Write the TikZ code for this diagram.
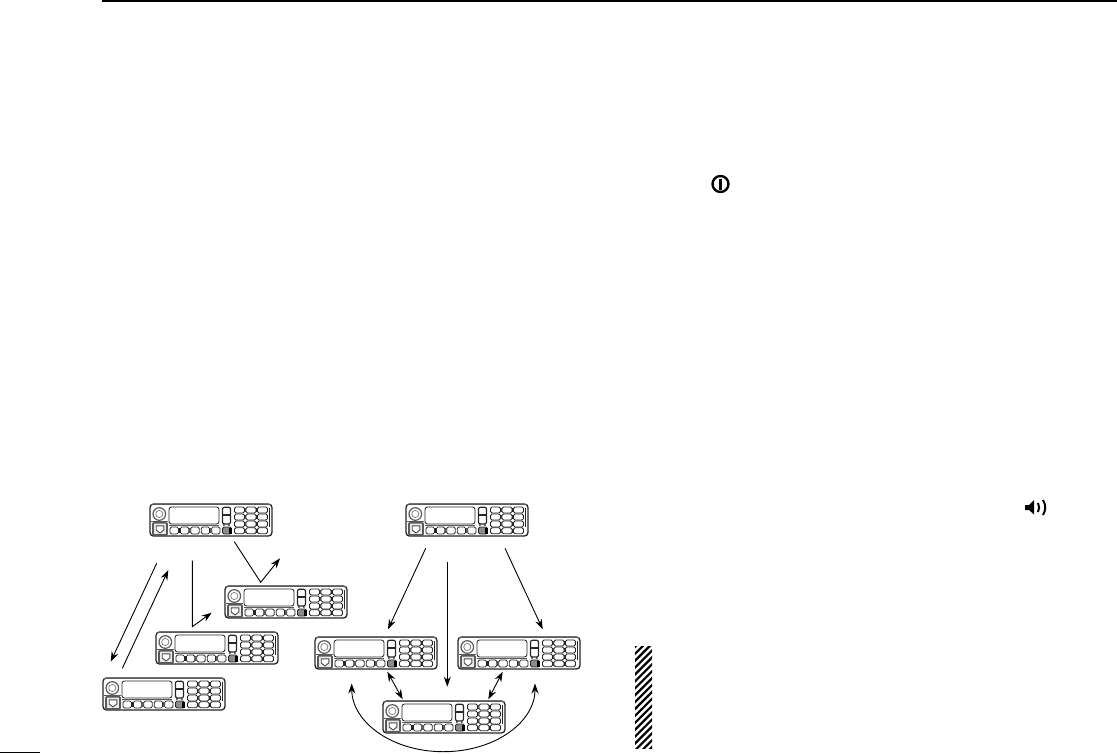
\documentclass[tikz,border=0pt]{standalone}
\usetikzlibrary{arrows.meta}
\definecolor{rg}{gray}{0.35}
\tikzset{
  x=1pt,y=-1pt,
  conn/.style={line width=0.9pt,-{Stealth[length=10pt,width=7pt]}},
  twoway/.style={line width=0.9pt,{Stealth[length=10pt,width=7pt]}-{Stealth[length=10pt,width=7pt]}},
  rline/.style={line width=0.85pt,black!85},
  rkey/.style={line width=0.8pt,draw=black!85,rounded corners=1.5pt},
  radio/.pic={
    \node[inner sep=0pt,minimum width=122pt,minimum height=33pt,anchor=north west] (-body) at (0,0) {};
    \draw[line width=1.3pt,draw=black!85,rounded corners=3.5pt] (0,0) rectangle (122,32);
    \draw[line width=1.4pt,draw=rg] (1,0.3) -- (121,0.3);
    \draw[line width=1.2pt,draw=rg] (9.3,10) circle (6.3);
    \draw[line width=0.7pt,draw=rg!80] (9.3,10) circle (3.6);
    \draw[rline,rounded corners=2.5pt] (19,3) rectangle (69,20);
    \draw[draw=rg,line width=0.7pt] (19,21.3) -- (69,21.3);
    \draw[draw=black!85,rounded corners=2pt,line width=1.2pt] (72.5,3.2) rectangle (80.5,20);
    \draw[line width=1.6pt,black!85] (72.5,11) -- (80.5,11);
    \fill[black!85] (73.8,21) circle (1) (78.8,21) circle (1);
    \draw[draw=rg,line width=1.7pt,rounded corners=1pt,fill=black!8] (3,18.7) rectangle (17,31);
    \draw[line width=0.9pt,black!70,fill=white] (6.2,21.8) -- (13.8,21.8) -- (13.8,26) -- (10,29) -- (6.2,26) -- cycle;
    \draw[rg,line width=0.8pt] (1,17.5) -- (18,17.5);
    \foreach \kx in {20,30.4,40.8,51.2,61.6}{
      \draw[rkey] (\kx,23) rectangle ++(8.4,7);
    }
    \fill[black!85] (28,24) rectangle ++(2.8,5);
    \fill[black!65] (38.5,24) rectangle ++(2.2,5);
    \fill[black!65] (59.5,24) rectangle ++(2.2,5);
    \draw[rkey,fill=black!45] (72.5,23) rectangle (81.5,30);
    \fill[black] (78.5,24) rectangle (82,29.5);
    \foreach \gy in {3,10,17,23.8}{
      \foreach \gx in {84.5,96,107.5}{
        \draw[rkey] (\gx,\gy) rectangle ++(10,6);
      }
      \fill[black!70] (94.5,\gy+1) rectangle ++(1.8,4);
      \fill[black!85] (106,\gy+1) rectangle ++(1.8,4);
    }
    \draw[line width=1.4pt,black!85] (119.3,4) -- (119.3,23);
  }
}
\begin{document}
\begin{tikzpicture}
\useasboundingbox (0,0) rectangle (1117,753);
% page rules
\coordinate (topa) at (102,1); \coordinate (topb) at (1117,1);
\draw[line width=2pt] (topa) -- (topb);
\coordinate (bota) at (0,752.4); \coordinate (botb) at (40,752.4);
\draw[line width=1.2pt] (bota) -- (botb);
% radios
\pic (r1) at (150,504) {radio};
\pic (r2) at (225,586) {radio};
\pic (r3) at (156,632) {radio};
\pic (r4) at (103,678) {radio};
\pic (r5) at (406,504) {radio};
\pic (r6) at (315,637) {radio};
\pic (r7) at (458,637) {radio};
\pic (r8) at (383,701) {radio};
% connector ends
\coordinate (a1) at (156.7,563.3); \coordinate (a2) at (110.7,661.7);
\coordinate (b1) at (122.3,668.3); \coordinate (b2) at (168.3,570);
\coordinate (c1) at (192.3,560.7); \coordinate (c2) at (192.3,626.7); \coordinate (c3) at (211.7,612.7);
\coordinate (d1) at (234.3,541.7); \coordinate (d2) at (260.7,582.3); \coordinate (d3) at (280,558.3);
\coordinate (e1) at (425.7,548.3); \coordinate (e2) at (388,629.3);
\coordinate (f1) at (447.3,561.7); \coordinate (f2) at (447.3,686.7);
\coordinate (g1) at (505,548.3); \coordinate (g2) at (542.7,629.3);
\coordinate (h1) at (387.3,671.7); \coordinate (h2) at (402.7,699.3);
\coordinate (i1) at (502.7,671.7); \coordinate (i2) at (488.3,699.3);
\coordinate (j1) at (351.7,683.5); \coordinate (j2) at (535,683.5);
\coordinate (j3) at (443.3,751.7);
\draw[conn] (a1) -- (a2);
\draw[conn] (b1) -- (b2);
\draw[conn] (c1) -- (c2) -- (c3);
\draw[conn] (d1) -- (d2) -- (d3);
\draw[conn] (e1) -- (e2);
\draw[conn] (f1) -- (f2);
\draw[conn] (g1) -- (g2);
\draw[twoway] (h1) -- (h2);
\draw[twoway] (i1) -- (i2);
\draw[twoway] (j1) .. controls (352,722) and (392,751.7) .. (j3) .. controls (495,751.7) and (535,722) .. (j2);
% hatched bar
\begin{scope}
\clip (635,646) rectangle (652,748);
\foreach \hy in {640,646.9,...,770}{
  \draw[line width=2.2pt] (630,\hy+5) -- (656,\hy-21);
}
\end{scope}
% speaker icon
\fill (1025,505) -- (1029,505) -- (1034,500) -- (1034,514.5) -- (1029,510) -- (1025,510) -- cycle;
\draw[line width=2pt] (1038,503) .. controls (1039.5,506) and (1039.5,509) .. (1038,512);
\draw[line width=2pt] (1043,500) .. controls (1046,505) and (1046,510) .. (1043,515);
% power icon
\draw[line width=2.4pt] (720.5,184) circle (8);
\draw[line width=2.6pt] (720.5,178.5) -- (720.5,189.5);
\end{tikzpicture}
\end{document}
